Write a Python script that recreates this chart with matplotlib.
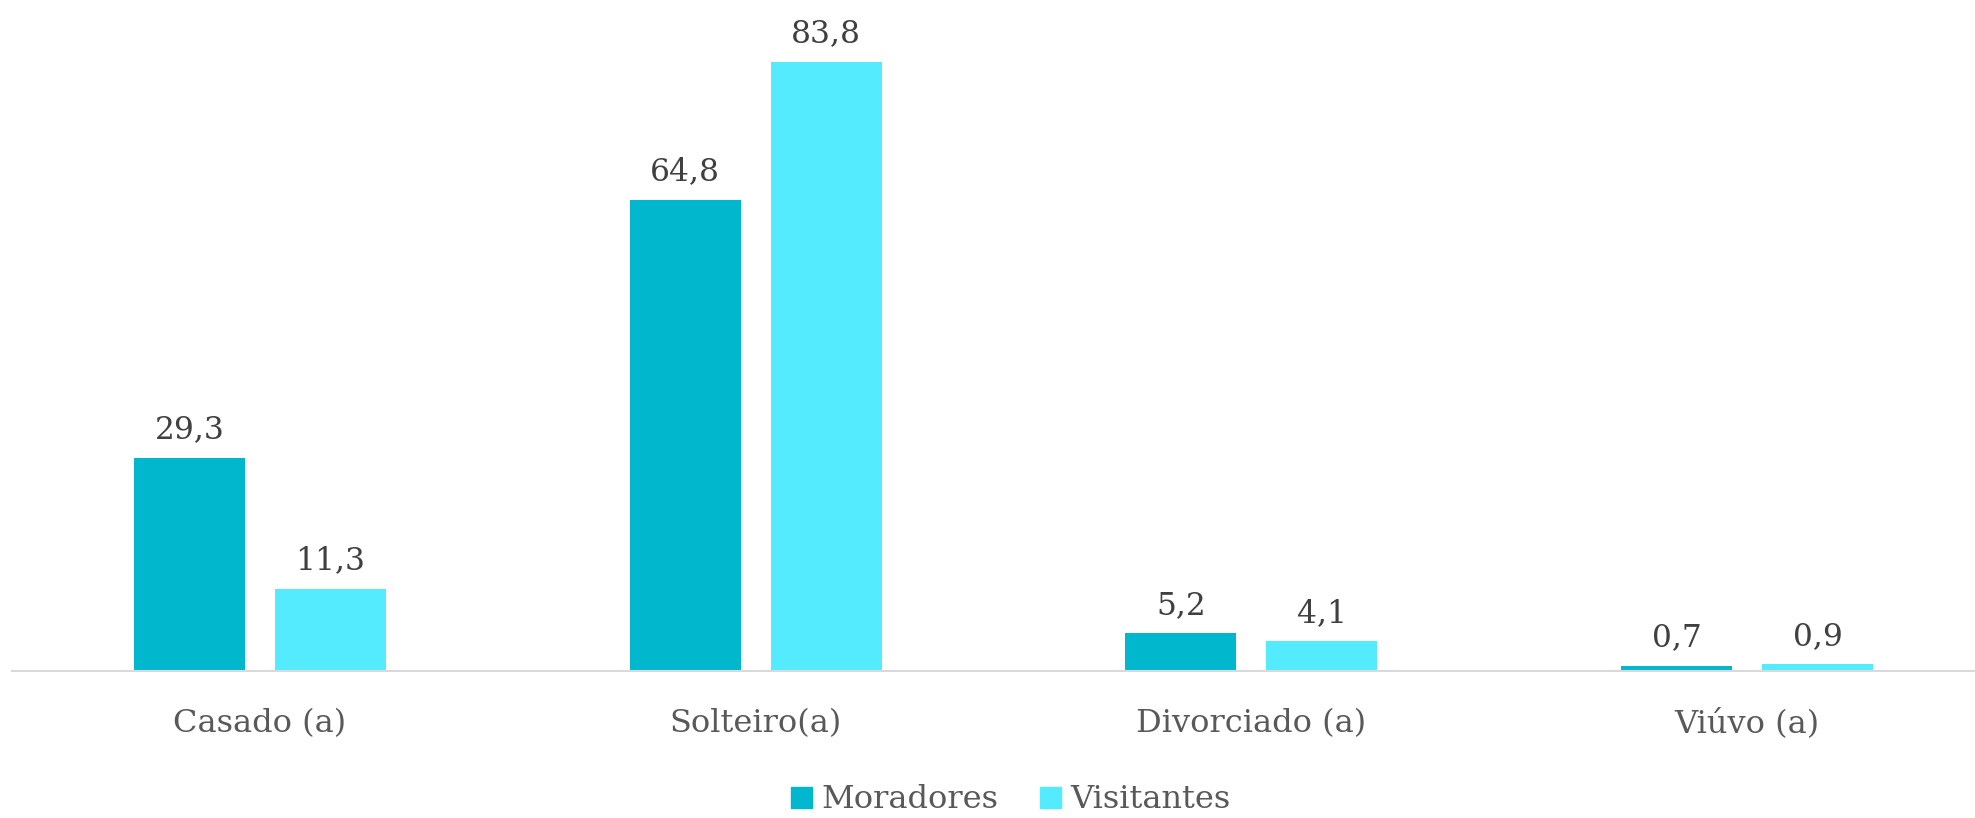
import numpy as np
import matplotlib.pyplot as plt
from matplotlib.patches import Patch

# dados
categorias = ["Casado (a)", "Solteiro(a)", "Divorciado (a)", "Viúvo (a)"]
moradores = [29.3, 64.8, 5.2, 0.7]
visitantes = [11.3, 83.8, 4.1, 0.9]
series = ["Moradores", "Visitantes"]
cores = ["#00B7CE", "#55EBFF"]

plt.rcParams['font.family'] = ['DejaVu Serif']

fig = plt.figure(figsize=(19.75, 8.18), dpi=100)
ax = fig.add_axes([12/1975, 147/818, 1983/1975, 654/818])

x = np.arange(len(categorias))
w = 0.224
off = (w + 0.0605) / 2

b1 = ax.bar(x - off, moradores, w, color=cores[0])
b2 = ax.bar(x + off, visitantes, w, color=cores[1])

for bars, vals in ((b1, moradores), (b2, visitantes)):
    for b, v in zip(bars, vals):
        ax.annotate(f"{v:.1f}".replace(".", ","),
                    (b.get_x() + b.get_width()/2, v),
                    xytext=(0, 9), textcoords="offset points",
                    ha="center", va="bottom", fontsize=22.5, color="#404040")

ax.set_xlim(-0.5, len(categorias) - 0.5)
ax.set_ylim(0, 90)
ax.set_xticks(x)
ax.set_xticklabels(categorias, fontsize=23, color="#595959")
ax.tick_params(axis="x", length=0, pad=27)
ax.set_yticks([])
for s in ["top", "right", "left"]:
    ax.spines[s].set_visible(False)
ax.spines["bottom"].set_color("#D9D9D9")
ax.spines["bottom"].set_linewidth(1.5)

handles = [Patch(color=c) for c in cores]
fig.legend(handles, series, loc="center", bbox_to_anchor=(1011/1975, 18/818),
           ncol=2, frameon=False, fontsize=23, labelcolor="#595959",
           handlelength=0.65, handleheight=0.65, handletextpad=0.3, columnspacing=1.3)

plt.savefig("out.png", dpi=100)
